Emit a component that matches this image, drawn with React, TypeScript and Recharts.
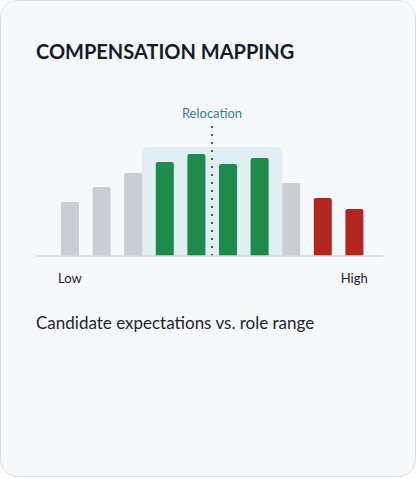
import { BarChart, Bar, XAxis, YAxis, Cell, ReferenceArea, ReferenceLine } from "recharts";

const bands = ["B1", "B2", "B3", "B4", "B5", "B6", "B7", "B8", "B9", "B10"];
const candidates = [54, 69, 83, 94, 102, 92, 98, 73, 58, 47];
const fit = ["below", "below", "below", "in", "in", "in", "in", "below", "above", "above"];
const rangeLabels = ["Low", "", "", "", "", "", "", "", "", "High"];

const fitColors: Record<string, string> = {
  below: "#c9cdd4",
  in: "#1e8a4c",
  above: "#b3261f",
};

const data = bands.map((band, i) => ({ band, value: candidates[i] }));

const RangeBox = (props: any) => {
  const { x, y, width, height } = props;
  const ext = 7;
  return (
    <rect
      x={x - ext}
      y={y}
      width={width + ext * 2}
      height={height}
      rx={5}
      fill="#d4eaf1"
      fillOpacity={0.6}
    />
  );
};

export default function App() {
  return (
    <div
      style={{
        position: "absolute",
        left: 0,
        top: 0,
        width: 418,
        height: 479,
        background: "#ffffff",
      }}
    >
      <div
        style={{
          position: "absolute",
          left: 0,
          top: 0,
          width: 414,
          height: 475,
          border: "1.5px solid #d3e1ea",
          borderRadius: 18,
          background: "#f6f8fa",
          fontFamily: "Lato, sans-serif",
        }}
      >
        <div
          style={{
            position: "absolute",
            left: 35,
            top: 38,
            fontSize: 20,
            fontWeight: 700,
            letterSpacing: 0,
            color: "#141c2b",
          }}
        >
          COMPENSATION MAPPING
        </div>
        <div style={{ position: "absolute", left: 0, top: 0 }}>
          <BarChart
            width={418}
            height={300}
            data={data}
            margin={{ top: 125, right: 36, bottom: 15, left: 35 }}
            barSize={18}
          >
            <YAxis hide domain={[0, 130]} />
            <XAxis
              dataKey="band"
              interval={0}
              tickLine={false}
              tickSize={0}
              tickMargin={18}
              height={30}
              padding={{ left: 18, right: 13 }}
              axisLine={{ stroke: "#d3dae2", strokeWidth: 1.5 }}
              tickFormatter={(_v: string, i: number) => rangeLabels[i]}
              tick={{ fill: "#1d2430", fontSize: 13, fontFamily: "Lato, sans-serif" }}
            />
            <ReferenceArea x1="B4" x2="B7" y1={0} y2={109} shape={<RangeBox />} />
            <Bar dataKey="value" radius={[2, 2, 0, 0]} isAnimationActive={false}>
              {data.map((d, i) => (
                <Cell key={d.band} fill={fitColors[fit[i]]} />
              ))}
            </Bar>
            <ReferenceLine
              x="B6"
              position="start"
              stroke="#2b6d88"
              strokeWidth={2}
              strokeDasharray="2 6"
              label={{
                value: "Relocation",
                position: "top",
                offset: 8,
                fill: "#3a7e9a",
                fontSize: 13,
                fontFamily: "Lato, sans-serif",
              }}
            />
          </BarChart>
        </div>
        <div
          style={{
            position: "absolute",
            left: 35,
            top: 311,
            fontSize: 17,
            color: "#1c2430",
          }}
        >
          Candidate expectations vs. role range
        </div>
      </div>
    </div>
  );
}
